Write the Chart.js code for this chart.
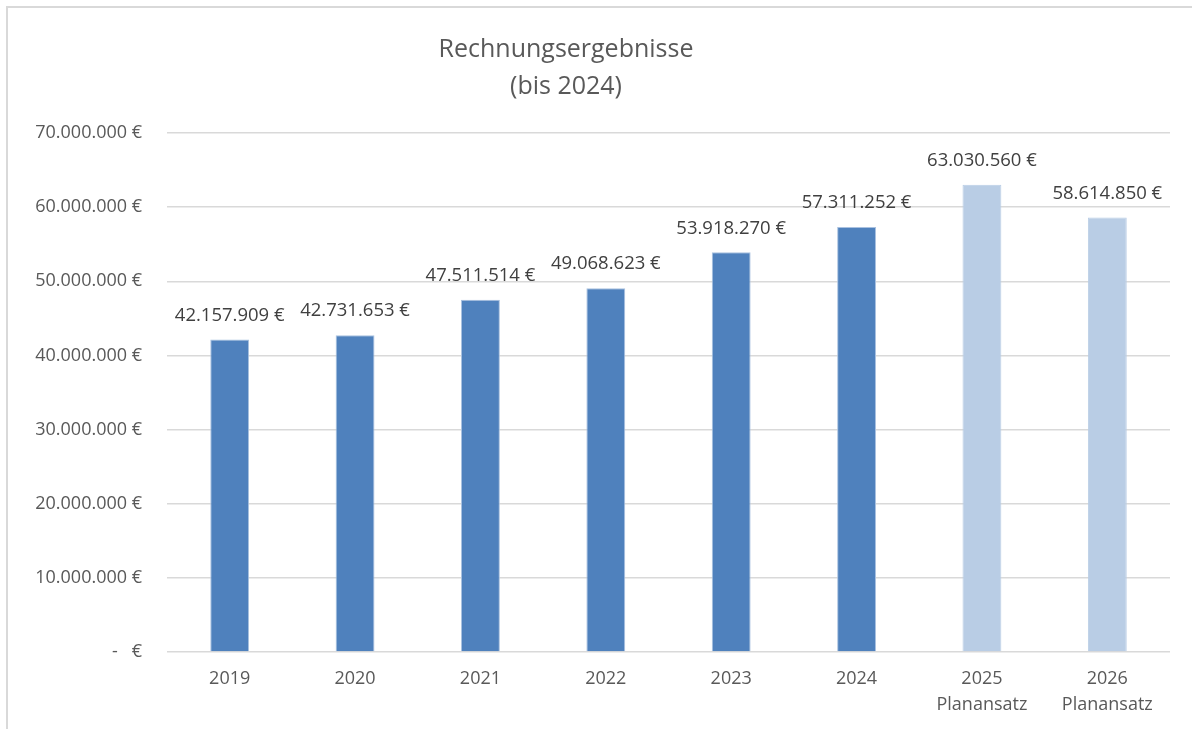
<!DOCTYPE html>
<html>
<head>
<meta charset="utf-8">
<script src="https://cdn.jsdelivr.net/npm/chart.js@4.4.1/dist/chart.umd.min.js"></script>
<style>
  html, body { margin: 0; padding: 0; background: #ffffff; }
  #wrap { position: relative; width: 1192px; height: 729px; overflow: hidden; }
  #frame { position: absolute; left: 6px; top: 6px; width: 1400px; height: 900px;
           border-left: 2px solid #d9d9d9; border-top: 2px solid #d9d9d9; pointer-events: none; }
  canvas { position: absolute; left: 0; top: 0; }
</style>
</head>
<body>
<div id="wrap">
  <div id="frame"></div>
  <canvas id="c" width="1192" height="729"></canvas>
</div>
<script>
const titleLines = ['Rechnungsergebnisse', '(bis 2024)'];
const categories = [['2019'], ['2020'], ['2021'], ['2022'], ['2023'], ['2024'], ['2025', 'Planansatz'], ['2026', 'Planansatz']];
const values = [42157909, 42731653, 47511514, 49068623, 53918270, 57311252, 63030560, 58614850];
const isPlan = [false, false, false, false, false, false, true, true];
const yTicks = [0, 10000000, 20000000, 30000000, 40000000, 50000000, 60000000, 70000000];

const FONT = "'Open Sans', 'Noto Sans', sans-serif";

function fmtEuro(v) {
  if (v === 0) return '-   €';
  const s = String(Math.round(v)).replace(/\B(?=(\d{3})+(?!\d))/g, '.');
  return s + ' €';
}

const labelPlugin = {
  id: 'labels',
  afterDatasetsDraw(chart) {
    const ctx = chart.ctx;
    const meta = chart.getDatasetMeta(0);
    ctx.save();
    ctx.font = '18.5px ' + FONT;
    ctx.fillStyle = '#404040';
    ctx.textAlign = 'center';
    ctx.textBaseline = 'middle';
    meta.data.forEach((bar, i) => {
      ctx.fillText(fmtEuro(values[i]), bar.x, bar.y - 24);
    });
    ctx.restore();
  }
};

const titlePlugin = {
  id: 'customTitle',
  afterDraw(chart) {
    const ctx = chart.ctx;
    ctx.save();
    ctx.font = '25px ' + FONT;
    ctx.fillStyle = '#595959';
    ctx.textAlign = 'center';
    ctx.textBaseline = 'middle';
    ctx.fillText(titleLines[0], 566, 50);
    ctx.fillText(titleLines[1], 566, 87);
    ctx.restore();
  }
};

new Chart(document.getElementById('c'), {
  type: 'bar',
  data: {
    labels: categories,
    datasets: [{
      data: values,
      backgroundColor: isPlan.map(p => p ? '#B9CDE5' : '#4F81BD'),
      borderColor: isPlan.map(p => p ? '#B9CDE5' : '#A9C1E0'),
      borderWidth: 1,
      barPercentage: 0.31,
      categoryPercentage: 1.0
    }]
  },
  options: {
    responsive: false,
    animation: false,
    devicePixelRatio: 1,
    layout: { padding: { top: 133, right: 22, left: 0, bottom: 0 } },
    plugins: {
      legend: { display: false },
      title: { display: false },
      tooltip: { enabled: false }
    },
    scales: {
      x: {
        grid: { display: false, drawTicks: false },
        border: { display: false },
        ticks: {
          color: '#595959',
          font: { family: FONT, size: 18, lineHeight: 1.45 },
          padding: 14,
          maxRotation: 0,
          autoSkip: false
        },
        afterFit(scale) { scale.height = 77; }
      },
      y: {
        min: 0,
        max: 70000000,
        afterBuildTicks(scale) { scale.ticks = yTicks.map(v => ({ value: v })); },
        grid: { color: '#d9d9d9', lineWidth: 1.5, drawTicks: false },
        border: { display: false },
        ticks: {
          color: '#595959',
          font: { family: FONT, size: 18 },
          padding: 25,
          callback: (v) => fmtEuro(v)
        },
        afterFit(scale) { scale.width = 167; }
      }
    }
  },
  plugins: [labelPlugin, titlePlugin]
});
</script>
</body>
</html>
